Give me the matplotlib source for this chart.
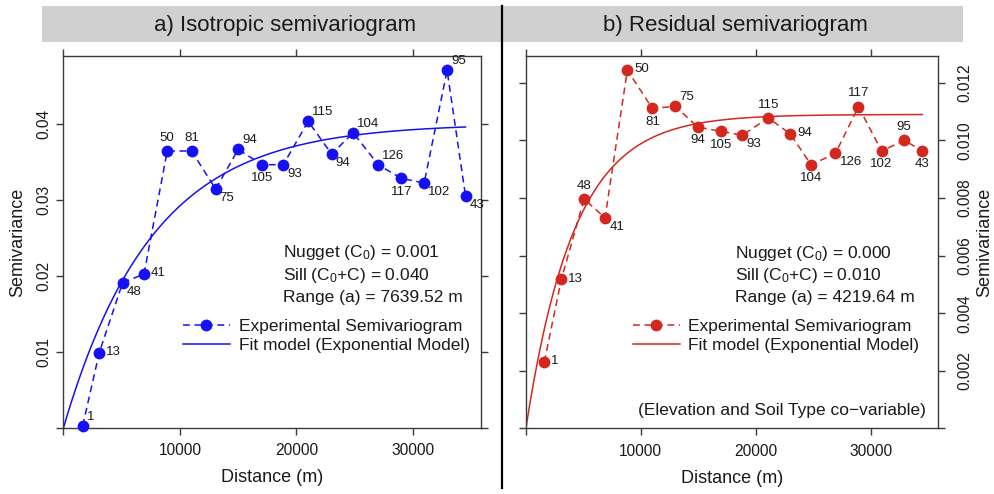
import numpy as np
import matplotlib
matplotlib.use('Agg')
import matplotlib.pyplot as plt
from matplotlib.lines import Line2D
from matplotlib.patches import Rectangle
from matplotlib.ticker import FuncFormatter

plt.rcParams['font.family'] = ['Liberation Sans', 'DejaVu Sans']
plt.rcParams['mathtext.fontset'] = 'custom'
plt.rcParams['mathtext.rm'] = 'Liberation Sans'
plt.rcParams['mathtext.it'] = 'Liberation Sans:italic'

# ---- data ----
dist_a = [1650, 3070, 5080, 6910, 8910, 11000, 13060, 15000, 17060, 18870,
          21010, 23020, 24880, 27020, 29000, 30970, 32940, 34520]
gamma_a = [0.00026, 0.00987, 0.0191, 0.0202, 0.0364, 0.0364, 0.0314, 0.0366, 0.0346, 0.0346,
           0.0403, 0.0360, 0.0388, 0.0346, 0.0328, 0.0322, 0.0470, 0.0305]
npairs_a = [1, 13, 48, 41, 50, 81, 75, 94, 105, 93, 115, 94, 104, 126, 117, 102, 95, 43]

dist_b = [1603, 3084, 5061, 6890, 8833, 11010, 13015, 14965, 17020, 18850,
          21090, 23005, 24835, 26950, 28955, 30960, 32935, 34500]
gamma_b = [0.00230, 0.00517, 0.00796, 0.00731, 0.01244, 0.01111, 0.01118, 0.01046, 0.01031, 0.01018,
           0.01078, 0.01023, 0.00915, 0.00955, 0.01117, 0.00963, 0.01000, 0.00964]
npairs_b = [1, 13, 48, 41, 50, 81, 75, 94, 105, 93, 115, 94, 104, 126, 117, 102, 95, 43]

# exponential model parameters (sill of curve b read from the plateau)
sill_a, range_a = 0.040, 7639.52
sill_b, range_b = 0.0109, 4219.64

# label placement per point (style only)
pos_a = ['ur', 'r', 'lr', 'r', 'a', 'a', 'lr', 'ur', 'b', 'lr', 'ur', 'lr', 'ur', 'ur', 'b', 'lr', 'ur', 'lr']
pos_b = ['r', 'r', 'a', 'lr', 'r', 'b', 'ur', 'b', 'b', 'lr', 'a', 'r', 'b', 'lr', 'a', 'b', 'a', 'b']
offs = {'r': (5, 0.5, 'left'), 'ur': (3, 6.5, 'left'), 'lr': (3, -6.5, 'left'),
        'a': (0, 9.5, 'center'), 'b': (0, -9.5, 'center')}

BLUE = '#1510F5'
RED = '#D2281F'
SPINE = '#3a3a3a'
TXT = '#1a1a1a'

fig = plt.figure(figsize=(9.95, 4.94), dpi=100)
W, H = 995, 494


def fx(px):
    return px / W


def fy(py):
    return 1 - py / H


ax1 = fig.add_axes([fx(63.5), fy(427.7), fx(417.5), 371.7 / H])
ax2 = fig.add_axes([fx(525.9), fy(428.3), fx(411.8), 372.3 / H])


def panel(ax, d, g, n, pos, sill, rng, col, ylim, yticks, yfmt, right):
    h = np.linspace(0, max(d), 300)
    ax.plot(h, sill * (1 - np.exp(-h / rng)), color=col, lw=1.1, zorder=2)
    ax.plot(d, g, color=col, lw=1.1, ls=(0, (4.5, 3)), marker='o', ms=8.5,
            markeredgewidth=0, zorder=3, clip_on=False)
    for xi, yi, lab, p in zip(d, g, n, pos):
        dx, dy, ha = offs[p]
        ax.annotate(str(lab), (xi, yi), xytext=(dx, dy), textcoords='offset points',
                    ha=ha, va='center', fontsize=9.5, color=TXT, zorder=4)
    ax.set_xlim(0, 35850)
    ax.set_ylim(*ylim)
    ax.set_xticks([0, 10000, 20000, 30000])
    ax.set_yticks(yticks)
    ax.xaxis.set_major_formatter(FuncFormatter(lambda v, _: '' if v == 0 else f'{v:.0f}'))
    ax.yaxis.set_major_formatter(FuncFormatter(lambda v, _: '' if v == 0 else yfmt.format(v)))
    for s in ax.spines.values():
        s.set_color(SPINE)
        s.set_linewidth(1.0)
    ax.tick_params(direction='out', length=5, width=1.0, color=SPINE, labelsize=11.2,
                   labelcolor=TXT, top=True, right=True, left=True, bottom=True)
    ax.tick_params(axis='x', pad=6)
    if right:
        ax.tick_params(axis='y', labelleft=False, labelright=True, pad=9)
        plt.setp(ax.get_yticklabels(), rotation=90, va='center', ha='left')
    else:
        ax.tick_params(axis='y', pad=4)
        plt.setp(ax.get_yticklabels(), rotation=90, va='center', ha='right')
    ax.set_xlabel('Distance (m)', fontsize=13, labelpad=8, color=TXT)


panel(ax1, dist_a, gamma_a, npairs_a, pos_a, sill_a, range_a, BLUE,
      (0, 0.0489), [0, 0.01, 0.02, 0.03, 0.04], '{:.2f}', False)
panel(ax2, dist_b, gamma_b, npairs_b, pos_b, sill_b, range_b, RED,
      (0, 0.01293), [0, 0.002, 0.004, 0.006, 0.008, 0.010, 0.012], '{:.3f}', True)

fig.text(fx(18), fy(242), 'Semivariance', rotation=90, ha='center', va='center',
         fontsize=13, color=TXT)
fig.text(fx(985), fy(242), 'Semivariance', rotation=90, ha='center', va='center',
         fontsize=13, color=TXT)

# stats text
stats_a = [r'Nugget (C$_{\mathrm{0}}$) = 0.001', r'Sill (C$_{\mathrm{0}}$+C) = 0.040',
           'Range (a) = 7639.52 m']
stats_b = [r'Nugget (C$_{\mathrm{0}}$) = 0.000', r'Sill (C$_{\mathrm{0}}$+C) = 0.010',
           'Range (a) = 4219.64 m']
for ax, lines, x0 in [(ax1, stats_a, 0.5257), (ax2, stats_b, 0.5078)]:
    for i, t in enumerate(lines):
        ax.text(x0, 0.4708 - 0.06 * i, t, transform=ax.transAxes, ha='left', va='center',
                fontsize=12.5, color=TXT)

# legends
for ax, col, x0 in [(ax1, BLUE, (183 - 63.5) / 417.5), (ax2, RED, (632.7 - 525.9) / 411.8)]:
    handles = [Line2D([], [], color=col, lw=1.1, ls=(0, (4.5, 3)), marker='o', ms=8.5,
                      markeredgewidth=0),
               Line2D([], [], color=col, lw=1.1)]
    ax.legend(handles, ['Experimental Semivariogram', 'Fit model (Exponential Model)'],
              loc='upper left', bbox_to_anchor=(x0, 0.293), frameon=False, fontsize=12.5,
              handlelength=2.7, handletextpad=0.5, borderpad=0, borderaxespad=0,
              labelspacing=0.22, numpoints=1, labelcolor=TXT)

ax2.text(0.9716, 0.049, '(Elevation and Soil Type co\u2212variable)', transform=ax2.transAxes,
         ha='right', va='center', fontsize=12.5, color=TXT)

# strip headers
fig.add_artist(Rectangle((fx(42), fy(42)), fx(460), 36 / H, transform=fig.transFigure,
                         facecolor='#d0d0d0', edgecolor='none', zorder=0))
fig.add_artist(Rectangle((fx(502), fy(42)), fx(461), 36 / H, transform=fig.transFigure,
                         facecolor='#d0d0d0', edgecolor='none', zorder=0))
fig.text(fx(285.5), fy(25), 'a) Isotropic semivariogram', ha='center', va='center',
         fontsize=16, color=TXT)
fig.text(fx(735), fy(25), 'b) Residual semivariogram', ha='center', va='center',
         fontsize=16, color=TXT)
fig.add_artist(Line2D([fx(502), fx(502)], [fy(6), fy(488)], transform=fig.transFigure,
                      color='black', lw=1.6))

fig.savefig('out.png', dpi=100)
